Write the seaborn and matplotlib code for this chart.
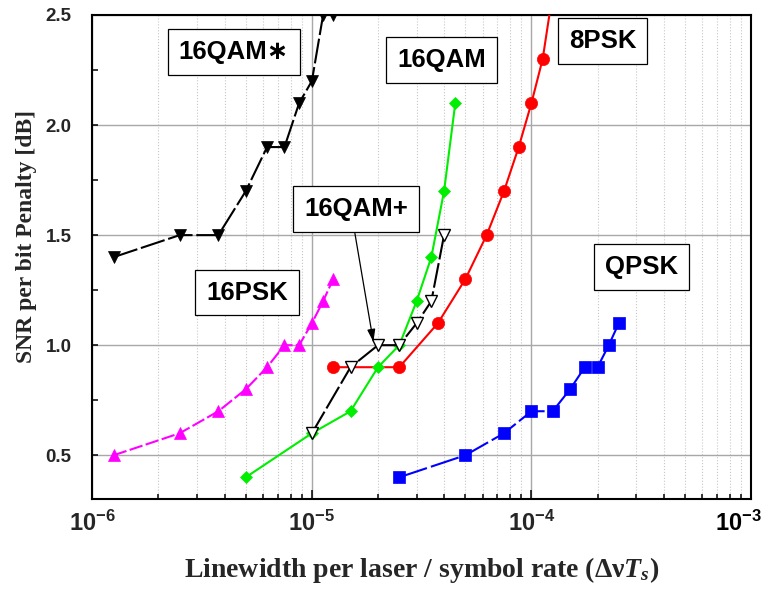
import matplotlib
matplotlib.use("Agg")
import matplotlib.pyplot as plt
from matplotlib import font_manager
from matplotlib.ticker import FixedLocator, NullFormatter, MultipleLocator
from matplotlib.transforms import ScaledTranslation, blended_transform_factory
import pandas as pd
import seaborn as sns

# ---- data: phase-noise tolerance of several modulation formats ----
qpsk_x = [2.5e-5, 5e-5, 7.5e-5, 1e-4, 1.25e-4, 1.5e-4, 1.75e-4, 2e-4, 2.25e-4, 2.5e-4]
qpsk_y = [0.4, 0.5, 0.6, 0.7, 0.7, 0.8, 0.9, 0.9, 1.0, 1.1]

psk8_x = [1.25e-5, 2.5e-5, 3.75e-5, 5e-5, 6.25e-5, 7.5e-5, 8.75e-5, 1e-4, 1.125e-4, 1.25e-4]
psk8_y = [0.9, 0.9, 1.1, 1.3, 1.5, 1.7, 1.9, 2.1, 2.3, 2.6]

qam16_x = [5e-6, 1e-5, 1.5e-5, 2e-5, 2.5e-5, 3e-5, 3.5e-5, 4e-5, 4.5e-5]
qam16_y = [0.4, 0.6, 0.7, 0.9, 1.0, 1.2, 1.4, 1.7, 2.1]

psk16_x = [1.25e-6, 2.5e-6, 3.75e-6, 5e-6, 6.25e-6, 7.5e-6, 8.75e-6, 1e-5, 1.125e-5, 1.25e-5]
psk16_y = [0.5, 0.6, 0.7, 0.8, 0.9, 1.0, 1.0, 1.1, 1.2, 1.3]

qam16_star_x = [1.25e-6, 2.5e-6, 3.75e-6, 5e-6, 6.25e-6, 7.5e-6, 8.75e-6, 1e-5, 1.125e-5, 1.25e-5]
qam16_star_y = [1.4, 1.5, 1.5, 1.7, 1.9, 1.9, 2.1, 2.2, 2.5, 2.5]

qam16_plus_x = [1e-5, 1.5e-5, 2e-5, 2.5e-5, 3e-5, 3.5e-5, 4e-5]
qam16_plus_y = [0.6, 0.9, 1.0, 1.0, 1.1, 1.2, 1.5]

x_ticks = [1e-6, 1e-5, 1e-4, 1e-3]
x_tick_labels = [r"$\mathbf{10^{-6}}$", r"$\mathbf{10^{-5}}$",
                 r"$\mathbf{10^{-4}}$", r"$\mathbf{10^{-3}}$"]
y_ticks = [0.5, 1.0, 1.5, 2.0, 2.5]
y_tick_labels = ["0.5", "1.0", "1.5", "2.0", "2.5"]

x_label = r"Linewidth per laser / symbol rate ($\mathrm{\Delta\nu}\mathit{T}_{\mathit{s}}$)"
y_label = "SNR per bit Penalty [dB]"

# ---- fonts ----
sns.set_theme(style="white")
names = {f.name for f in font_manager.fontManager.ttflist}
tick_family = "Liberation Sans Narrow" if "Liberation Sans Narrow" in names else "Liberation Sans"
plt.rcParams["font.family"] = ["Liberation Sans", "DejaVu Sans"]
plt.rcParams["mathtext.fontset"] = "custom"
plt.rcParams["mathtext.bf"] = f"{tick_family}:bold"
plt.rcParams["mathtext.rm"] = "Liberation Serif:bold"
plt.rcParams["mathtext.it"] = "Liberation Serif:bold:italic"

fig = plt.figure(figsize=(7.72, 5.92), dpi=100)
ax = fig.add_axes([0.1196, 0.1566, 0.8532, 0.8181])

def draw(xs, ys, color, marker, ms, dashes=None, mfc=None, mec=None, mew=0.5, z=3):
    df = pd.DataFrame({"x": xs, "y": ys})
    sns.lineplot(data=df, x="x", y="y", ax=ax, sort=False, estimator=None,
                 color=color, marker=marker, markersize=ms, linewidth=1.5,
                 markerfacecolor=mfc if mfc else color,
                 markeredgecolor=mec if mec else color,
                 markeredgewidth=mew, zorder=z)
    line = ax.lines[-1]
    if dashes is not None:
        line.set_dashes(dashes)
    return line

draw(psk8_x, psk8_y, "#ff0000", "o", 8.8)
draw(qam16_x, qam16_y, "#00ee00", "D", 6.6)
draw(qpsk_x, qpsk_y, "#0000ff", "s", 8.4, dashes=(14, 2))
draw(psk16_x, psk16_y, "#ff00ff", "^", 9.2, dashes=(6.5, 1.6))
draw(qam16_star_x, qam16_star_y, "#000000", "v", 9.2, dashes=(12, 1.8))
draw(qam16_plus_x, qam16_plus_y, "#000000", "v", 9.2, dashes=(12, 1.8),
     mfc="white", mec="black", mew=1.0, z=4)

# ---- axes ----
ax.set_xscale("log")
ax.set_xlim(1e-6, 1e-3)
ax.set_ylim(0.3, 2.5)

XT_SIZE = 17
XT_PAD = 8

ax.xaxis.set_major_locator(FixedLocator(x_ticks))
# the last decade label is drawn separately, nudged left so it stays on the canvas
ax.set_xticklabels(x_tick_labels[:-1] + [""])
minor = [m * 10.0 ** e for e in (-6, -5, -4) for m in range(2, 10)]
ax.xaxis.set_minor_locator(FixedLocator(minor))
ax.xaxis.set_minor_formatter(NullFormatter())
ax.yaxis.set_major_locator(FixedLocator(y_ticks))
ax.set_yticklabels(y_tick_labels)
ax.yaxis.set_minor_locator(MultipleLocator(0.25))

for lab in ax.get_yticklabels():
    lab.set_fontfamily(tick_family)
    lab.set_fontweight("bold")
    lab.set_fontsize(13.5)
for lab in ax.get_xticklabels():
    lab.set_fontsize(XT_SIZE)

edge_tf = blended_transform_factory(ax.transData, ax.transAxes) + \
    ScaledTranslation(-9 / 72, -XT_PAD / 72, fig.dpi_scale_trans)
ax.text(x_ticks[-1], 0, x_tick_labels[-1], transform=edge_tf, ha="center", va="top",
        fontsize=XT_SIZE, color="black", clip_on=False)

ax.tick_params(axis="x", which="major", direction="in", length=6.5, width=1.1,
               color="black", pad=XT_PAD, bottom=True, top=False)
ax.tick_params(axis="x", which="minor", direction="in", length=3.8, width=1.1,
               color="black", bottom=True, top=False)
ax.tick_params(axis="y", which="major", direction="in", length=4, width=1.1,
               color="black", pad=15, left=True, right=False)
ax.tick_params(axis="y", which="minor", direction="in", length=4, width=1.1,
               color="black", left=True, right=False)

ax.set_axisbelow(True)
ax.grid(which="major", axis="both", color="#a8a8a8", linewidth=1.0, linestyle="-")
ax.grid(which="minor", axis="x", color="#c8c8c8", linewidth=0.8, linestyle=":")
ax.grid(which="minor", axis="y", visible=False)

for s in ax.spines.values():
    s.set_color("black")
    s.set_linewidth(1.5)

ax.set_xlabel(x_label, fontfamily="Liberation Serif", fontweight="bold", fontsize=20, va="center")
ax.set_ylabel(y_label, fontfamily="Liberation Serif", fontweight="bold", fontsize=17, va="center")
ax.xaxis.set_label_coords(0.5, -0.146)
ax.yaxis.set_label_coords(-0.0999, 0.5416)

# ---- format labels in boxes ----
box = dict(boxstyle="square,pad=0.42", facecolor="white", edgecolor="black", linewidth=0.9)
labels = [
    ("16QAM\u2217", 4.42e-6, 2.332),
    ("16QAM", 3.90e-5, 2.295),
    ("8PSK", 2.11e-4, 2.382),
    ("16QAM+", 1.59e-5, 1.618),
    ("16PSK", 5.06e-6, 1.239),
    ("QPSK", 3.18e-4, 1.356),
]
for txt, lx, ly in labels:
    ax.text(lx, ly, txt, ha="center", va="center", fontsize=18.5, fontweight="bold",
            family=["Liberation Sans", "DejaVu Sans"], color="black", bbox=box, zorder=6)

ax.annotate("", xy=(1.906e-5, 1.015), xytext=(1.57e-5, 1.508),
            arrowprops=dict(arrowstyle="-|>,head_length=0.5,head_width=0.16",
                            color="black", lw=0.9, shrinkA=0, shrinkB=0,
                            mutation_scale=15), zorder=5)

fig.savefig("out.png", dpi=100)
